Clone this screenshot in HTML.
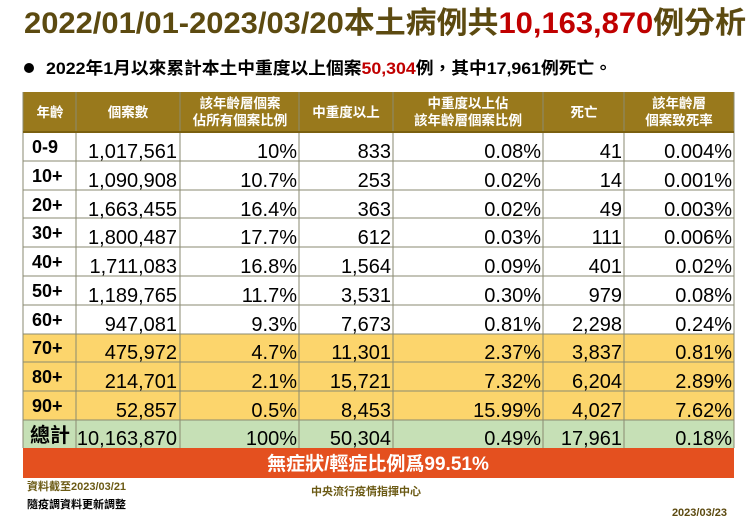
<!DOCTYPE html>
<html><head><meta charset="utf-8"><style>
body{margin:0;background:#fff;}
svg{display:block;}
text{font-family:"Liberation Sans","Noto Sans CJK TC",sans-serif;}
</style></head><body>
<svg width="750" height="531" viewBox="0 0 750 531" xmlns="http://www.w3.org/2000/svg">
<text x="24" y="33" font-size="30" font-weight="bold" fill="#5c4a10" textLength="722" lengthAdjust="spacingAndGlyphs">2022/01/01-2023/03/20本土病例共<tspan fill="#c00000">10,163,870</tspan>例分析</text>
<circle cx="29" cy="68" r="5" fill="#000"/>
<text x="46" y="74" font-size="17" font-weight="bold" fill="#000" textLength="566" lengthAdjust="spacingAndGlyphs">2022年1月以來累計本土中重度以上個案<tspan fill="#c00000">50,304</tspan>例，其中17,961例死亡。</text>
<rect x="23" y="92" width="711" height="40" fill="#99791c"/>
<g fill="#fff" font-size="13.5" font-weight="bold" text-anchor="middle">
<text x="50" y="117">年齡</text>
<text x="128" y="117">個案數</text>
<text x="240" y="108">該年齡層個案</text><text x="240" y="125">佔所有個案比例</text>
<text x="346" y="117">中重度以上</text>
<text x="468" y="108">中重度以上佔</text><text x="468" y="125">該年齡層個案比例</text>
<text x="584" y="117">死亡</text>
<text x="679" y="108">該年齡層</text><text x="679" y="125">個案致死率</text>
</g>
<rect x="23" y="132" width="711" height="202" fill="#fff"/>
<rect x="23" y="334" width="711" height="86" fill="#fcd56c"/>
<rect x="23" y="420" width="711" height="28" fill="#c6e0b6"/>
<g stroke="#8a8a70" stroke-width="1">
<line x1="23" y1="161" x2="734" y2="161"/><line x1="23" y1="190" x2="734" y2="190"/>
<line x1="23" y1="218" x2="734" y2="218"/><line x1="23" y1="247" x2="734" y2="247"/>
<line x1="23" y1="276" x2="734" y2="276"/><line x1="23" y1="305" x2="734" y2="305"/>
<line x1="23" y1="334" x2="734" y2="334"/><line x1="23" y1="362" x2="734" y2="362"/>
<line x1="23" y1="391" x2="734" y2="391"/><line x1="23" y1="420" x2="734" y2="420"/>
<line x1="23" y1="92" x2="23" y2="448"/><line x1="76" y1="92" x2="76" y2="448"/>
<line x1="180" y1="92" x2="180" y2="448"/><line x1="299" y1="92" x2="299" y2="448"/>
<line x1="393" y1="92" x2="393" y2="448"/><line x1="543" y1="92" x2="543" y2="448"/>
<line x1="624" y1="92" x2="624" y2="448"/><line x1="734" y1="92" x2="734" y2="448"/>
</g>
<line x1="23" y1="132" x2="734" y2="132" stroke="#7a6010" stroke-width="2"/>
<g font-size="18" font-weight="bold" fill="#000">
<text x="32" y="153">0-9</text><text x="32" y="182">10+</text><text x="32" y="211">20+</text>
<text x="32" y="239">30+</text><text x="32" y="268">40+</text><text x="32" y="297">50+</text>
<text x="32" y="326">60+</text><text x="32" y="354">70+</text><text x="32" y="383">80+</text>
<text x="32" y="412">90+</text><text x="30" y="442" font-size="20">總計</text>
</g>
<g font-size="20" fill="#000" text-anchor="end">
<text x="177" y="158">1,017,561</text><text x="297" y="158">10%</text><text x="391" y="158">833</text><text x="541" y="158">0.08%</text><text x="622" y="158">41</text><text x="732" y="158">0.004%</text>
<text x="177" y="187">1,090,908</text><text x="297" y="187">10.7%</text><text x="391" y="187">253</text><text x="541" y="187">0.02%</text><text x="622" y="187">14</text><text x="732" y="187">0.001%</text>
<text x="177" y="216">1,663,455</text><text x="297" y="216">16.4%</text><text x="391" y="216">363</text><text x="541" y="216">0.02%</text><text x="622" y="216">49</text><text x="732" y="216">0.003%</text>
<text x="177" y="244">1,800,487</text><text x="297" y="244">17.7%</text><text x="391" y="244">612</text><text x="541" y="244">0.03%</text><text x="622" y="244">111</text><text x="732" y="244">0.006%</text>
<text x="177" y="273">1,711,083</text><text x="297" y="273">16.8%</text><text x="391" y="273">1,564</text><text x="541" y="273">0.09%</text><text x="622" y="273">401</text><text x="732" y="273">0.02%</text>
<text x="177" y="302">1,189,765</text><text x="297" y="302">11.7%</text><text x="391" y="302">3,531</text><text x="541" y="302">0.30%</text><text x="622" y="302">979</text><text x="732" y="302">0.08%</text>
<text x="177" y="331">947,081</text><text x="297" y="331">9.3%</text><text x="391" y="331">7,673</text><text x="541" y="331">0.81%</text><text x="622" y="331">2,298</text><text x="732" y="331">0.24%</text>
<text x="177" y="359">475,972</text><text x="297" y="359">4.7%</text><text x="391" y="359">11,301</text><text x="541" y="359">2.37%</text><text x="622" y="359">3,837</text><text x="732" y="359">0.81%</text>
<text x="177" y="388">214,701</text><text x="297" y="388">2.1%</text><text x="391" y="388">15,721</text><text x="541" y="388">7.32%</text><text x="622" y="388">6,204</text><text x="732" y="388">2.89%</text>
<text x="177" y="417">52,857</text><text x="297" y="417">0.5%</text><text x="391" y="417">8,453</text><text x="541" y="417">15.99%</text><text x="622" y="417">4,027</text><text x="732" y="417">7.62%</text>
<text x="177" y="445">10,163,870</text><text x="297" y="445">100%</text><text x="391" y="445">50,304</text><text x="541" y="445">0.49%</text><text x="622" y="445">17,961</text><text x="732" y="445">0.18%</text>
</g>
<rect x="23" y="448" width="711" height="30" fill="#e4501f"/>
<text x="378" y="470" font-size="19" font-weight="bold" fill="#fff" text-anchor="middle">無症狀/輕症比例爲99.51%</text>
<text x="27" y="490" font-size="11" font-weight="bold" fill="#6b5a14">資料截至2023/03/21</text>
<text x="27" y="508" font-size="11" font-weight="bold" fill="#000">隨疫調資料更新調整</text>
<text x="311" y="495" font-size="11" font-weight="bold" fill="#6b5a14">中央流行疫情指揮中心</text>
<text x="727" y="516" font-size="11" font-weight="bold" fill="#5c4a10" text-anchor="end">2023/03/23</text>
</svg>
</body></html>
